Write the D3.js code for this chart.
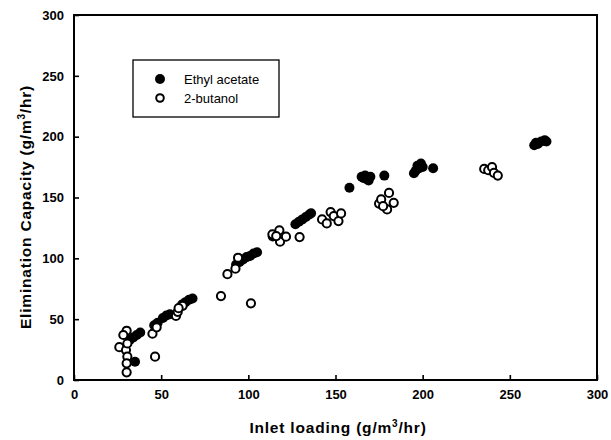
<!DOCTYPE html>
<html><head><meta charset="utf-8">
<script src="https://cdn.jsdelivr.net/npm/d3@7"></script>
<style>body{margin:0;background:#fff}svg{display:block}text{font-family:"Liberation Sans",Arial,sans-serif;font-weight:bold;fill:#000}</style>
</head><body>
<script>
const xTicks = [0,50,100,150,200,250,300];
const yTicks = [0,50,100,150,200,250,300];
const seriesNames = ["Ethyl acetate","2-butanol"];
const ethylX = [35,32,34,36,38,46,48,51,53,55,62,64,66,68,93,95,97,99,101,103,105,114,127,129,131,133,135,136,158,165,166,167,168,169,170,178,195,196,197,198,199,200,206,264,265,266,268,270,271];
const ethylY = [15,33,35,37,39,45,47,51,53,54,62,64,66,67,95,97,99,101,102,104,105,118,128,130,132,134,136,137,158,167,166,168,165,164,167,168,170,172,176,174,178,175,174,193,195,194,196,197,196];
const butX = [30.2,28.3,26,29.8,30.6,30.2,30.2,30.6,45,47.4,46.5,58.5,59.5,62.3,60,84.3,101.5,88,92.6,94.1,113.8,117.8,118.2,121.6,116,129.4,142.3,145,147.2,149,151.7,153.2,175,176.2,179.6,180.7,183.4,177.3,235.3,237.6,239.8,240.9,243.1];
const butY = [40.5,37,27,24.6,19.2,13.7,6.3,30,38,43.3,19.2,52.6,56,61,59,69,63,87,91.5,100.5,119.7,123,113.7,117.8,118.3,117.5,132,128.7,138,134.7,130.6,136.9,145,148.4,140.2,153.8,145.6,142.9,173.5,172.4,174.9,170.2,168];

const W=611,H=440, L=74,R=597,T=15,B=380;
const svg=d3.select("body").append("svg").attr("width",W).attr("height",H);
const x=d3.scaleLinear().domain([0,300]).range([L,R]);
const y=d3.scaleLinear().domain([0,300]).range([B,T]);

svg.append("g").attr("transform",`translate(0,${B})`)
  .call(d3.axisBottom(x).tickValues(xTicks).tickSizeInner(-5).tickSizeOuter(0).tickPadding(10))
  .call(g=>{g.select(".domain").remove();g.selectAll("line").attr("stroke","#000").attr("stroke-width",1.6);g.selectAll("text").attr("font-size",13).style("font-weight","bold");});
svg.append("g").attr("transform",`translate(${L},0)`)
  .call(d3.axisLeft(y).tickValues(yTicks).tickSizeInner(-5).tickSizeOuter(0).tickPadding(10))
  .call(g=>{g.select(".domain").remove();g.selectAll("line").attr("stroke","#000").attr("stroke-width",1.6);g.selectAll("text").attr("font-size",13).style("font-weight","bold");});
svg.append("rect").attr("x",L).attr("y",T).attr("width",R-L).attr("height",B-T)
  .attr("fill","none").attr("stroke","#000").attr("stroke-width",2);

const ethyl=ethylX.map((v,i)=>({x:v,y:ethylY[i]}));
const but=butX.map((v,i)=>({x:v,y:butY[i]}));
svg.append("g").selectAll("circle").data(ethyl).join("circle")
  .attr("cx",d=>x(d.x)).attr("cy",d=>y(d.y)).attr("r",5).attr("fill","#000");
svg.append("g").selectAll("circle").data(but).join("circle")
  .attr("cx",d=>x(d.x)).attr("cy",d=>y(d.y)).attr("r",4.1).attr("fill","#fff").attr("stroke","#000").attr("stroke-width",2);

// legend
const lg=svg.append("g");
lg.append("rect").attr("x",133).attr("y",60).attr("width",146).attr("height",57).attr("fill","#fff").attr("stroke","#000").attr("stroke-width",1.3);
lg.append("circle").attr("cx",160).attr("cy",79).attr("r",5).attr("fill","#000");
lg.append("circle").attr("cx",160).attr("cy",98).attr("r",3.8).attr("fill","#fff").attr("stroke","#000").attr("stroke-width",2);
lg.append("text").attr("x",184).attr("y",84).attr("font-size",13).style("font-weight","normal").text(seriesNames[0]);
lg.append("text").attr("x",184).attr("y",103).attr("font-size",13).style("font-weight","normal").text(seriesNames[1]);

// axis titles
const xt=svg.append("text").attr("x",338).attr("y",433).attr("text-anchor","middle").attr("font-size",15.5).attr("letter-spacing",0.8);
xt.append("tspan").text("Inlet loading (g/m");
xt.append("tspan").attr("dy",-6).attr("font-size",10).text("3");
xt.append("tspan").attr("dy",6).text("/hr)");
const yt=svg.append("text").attr("transform","translate(31,207) rotate(-90)").attr("text-anchor","middle").attr("font-size",15.5).attr("letter-spacing",0.8);
yt.append("tspan").text("Elimination Capacity (g/m");
yt.append("tspan").attr("dy",-6).attr("font-size",10).text("3");
yt.append("tspan").attr("dy",6).text("/hr)");
</script>
</body></html>
